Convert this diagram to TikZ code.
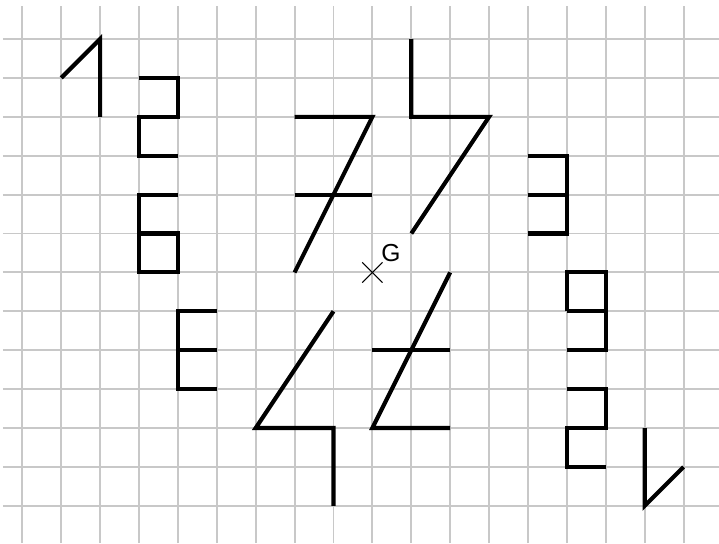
\documentclass[tikz,border=0pt]{standalone}
\usepackage{fontspec}
\setmainfont{Liberation Sans}
\begin{document}
\begin{tikzpicture}[x=1cm,y=1cm,
  gridline/.style={draw={rgb,255:red,200;green,200;blue,200}, line width=1.4pt},
  figline/.style={draw=black, line width=3pt, line join=miter},
  crossline/.style={draw=black, line width=0.75pt}]
\useasboundingbox (-9.573,-6.956) rectangle (8.910,7.003);
% grid
\foreach \i in {-9,...,8} \draw[gridline] (\i,-6.96) -- (\i,6.85);
\foreach \j in {-6,...,6} \draw[gridline] (-9.5,\j) -- (8.95,\j);
% figures
\draw[figline] (-8,5) -- (-7,6) -- (-7,4);
\draw[figline] (-6,5) -- (-5,5) -- (-5,4) -- (-6,4) -- (-6,3) -- (-5,3);
\draw[figline] (-5,2) -- (-6,2) -- (-6,0) -- (-5,0) -- (-5,1) -- (-6,1);
\draw[figline] (-2,4) -- (0,4) -- (-2,0);
\draw[figline] (-2,2) -- (0,2);
\draw[figline] (1,6) -- (1,4) -- (3,4) -- (1,1);
\draw[figline] (4,3) -- (5,3) -- (5,1) -- (4,1);
\draw[figline] (4,2) -- (5,2);
\draw[figline] (5,-1) -- (5,0) -- (6,0) -- (6,-2) -- (5,-2);
\draw[figline] (5,-1) -- (6,-1);
\draw[figline] (5,-3) -- (6,-3) -- (6,-4) -- (5,-4) -- (5,-5) -- (6,-5);
\draw[figline] (7,-4) -- (7,-6) -- (8,-5);
\draw[figline] (-4,-1) -- (-5,-1) -- (-5,-3) -- (-4,-3);
\draw[figline] (-5,-2) -- (-4,-2);
\draw[figline] (-1,-1) -- (-3,-4) -- (-1,-4) -- (-1,-6);
\draw[figline] (2,0) -- (0,-4) -- (2,-4);
\draw[figline] (0,-2) -- (2,-2);
% centre G
\coordinate (g) at (0,0);
\draw[crossline] ([shift={(-0.26,-0.26)}]g) -- ([shift={(0.26,0.26)}]g);
\draw[crossline] ([shift={(-0.26,0.26)}]g) -- ([shift={(0.26,-0.26)}]g);
\node[inner sep=0pt, font=\fontsize{18}{18}\selectfont] (glabel) at (0.48,0.50) {G};
\end{tikzpicture}
\end{document}
